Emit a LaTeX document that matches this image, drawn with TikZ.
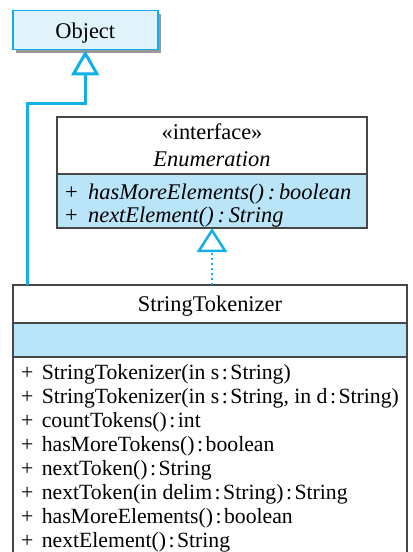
\documentclass[tikz,border=0pt]{standalone}
\usepackage{fontspec}
\setmainfont{Liberation Serif}
\usetikzlibrary{arrows.meta,shadows}
\definecolor{umlcyan}{HTML}{12AEE8}
\definecolor{objfill}{HTML}{E0F3FB}
\definecolor{opsfill}{HTML}{BAE5F8}
\definecolor{umlborder}{HTML}{474747}
\newcommand\umlsize{\fontsize{22.5}{24}\selectfont}
\newcommand\opsize{\fontsize{21.8}{24.1}\selectfont}
\newcommand\cln{\kern2.5bp:\kern2.5bp}
\newcommand\pub{+\kern3bp\ }
\newcommand\ws{394}
\newcommand\we{310}

\begin{document}
\begin{tikzpicture}[x=1bp,y=1bp,font=\umlsize,
		myclass/.style={rectangle,draw=umlborder,line width=1.3bp,text=black,inner sep=0bp,outer sep=0bp,align=center},
		myops/.style={myclass,fill=opsfill,align=left,inner xsep=8bp,inner ysep=0bp},
		mygen/.style={draw=umlcyan,line width=3bp,-{Triangle[open,length=25bp,width=28bp]}},
		myreal/.style={draw=umlcyan,line width=2.5bp,dash pattern=on 2.5bp off 2.5bp,-{Triangle[open,length=24bp,width=30bp]}}]
		\useasboundingbox (0,0) rectangle (412,-552);
		\node(obj)[rectangle,draw=umlcyan,fill=objfill,line width=1.5bp,minimum width=145bp,minimum height=39bp,text depth=0bp,anchor=north west,
			drop shadow={shadow xshift=3bp,shadow yshift=-3bp,fill=black!40,opacity=1}] at (12,-10) {Object};
		\node(enumhead)[myclass,minimum width=\we bp,minimum height=57bp,anchor=north west] at (57,-117)
		{«interface»\\[3bp]\textit{Enumeration}};
		\node(enumops)[myops,text width=\we bp-16bp,minimum height=54bp,anchor=north] at (enumhead.south)
		{\rule{0pt}{24bp}\pub\textit{hasMoreElements()\,:\,boolean}\\[-1bp]\pub\textit{nextElement()\,:\,String}};
		\node(tokhead)[myclass,minimum width=\ws bp,minimum height=38bp,text depth=0bp,anchor=north west] at (13,-285) {StringTokenizer};
		\node(tokattr)[myclass,fill=opsfill,minimum width=\ws bp,minimum height=34bp,anchor=north] at (tokhead.south) {};
		\node(tokops)[myops,fill=none,font=\opsize,inner xsep=0bp,minimum width=\ws bp,minimum height=203bp,anchor=north] at (tokattr.south)
		{\pub StringTokenizer(in s\cln String)\\
			\pub StringTokenizer(in s\cln String, in d\cln String)\\
			\pub countTokens()\cln int\\
			\pub hasMoreTokens()\cln boolean\\
			\pub nextToken()\cln String\\
			\pub nextToken(in delim\cln String)\cln String\\
			\pub hasMoreElements()\cln boolean\\
			\pub nextElement()\cln String};
		\coordinate(bend) at ([yshift=-53bp]obj.south);
		\path [mygen] ([xshift=14bp]tokhead.north west) |- (bend) -- (obj.south);
		\path [myreal] (enumops.south |- tokhead.north) -- (enumops.south);
	\end{tikzpicture}
\end{document}
